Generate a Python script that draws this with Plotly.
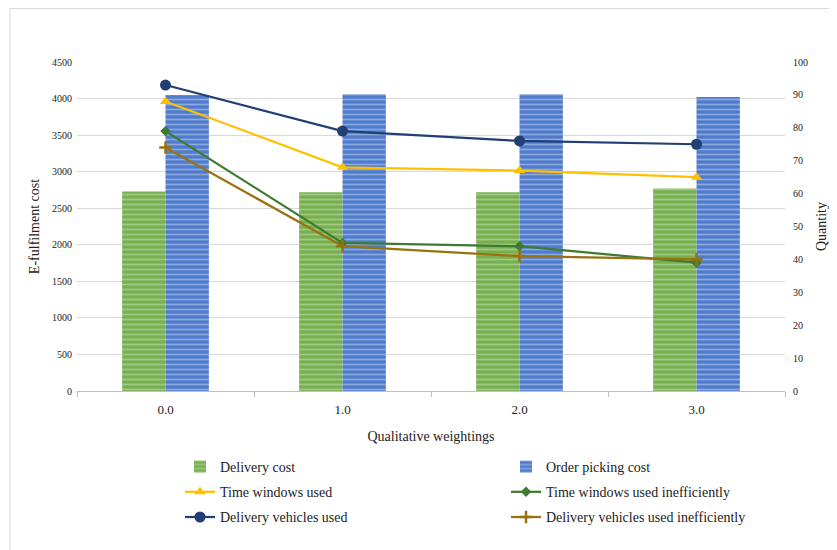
import plotly.graph_objects as go

categories = ["0.0", "1.0", "2.0", "3.0"]
delivery_cost = [2730, 2720, 2720, 2770]
order_picking_cost = [4050, 4060, 4060, 4020]
time_windows_used = [88, 68, 67, 65]
time_windows_ineff = [79, 45, 44, 39]
vehicles_used = [93, 79, 76, 75]
vehicles_ineff = [74, 44, 41, 40]

FONT = "Liberation Serif, Times New Roman, serif"

fig = go.Figure()
fig.add_trace(go.Bar(
    x=categories, y=delivery_cost, name="Delivery cost", legend="legend", legendgroup="a",
    marker=dict(color="#78B050", line=dict(width=0),
                pattern=dict(shape="-", fgcolor="#C6E0B4", bgcolor="#78B050", size=5, solidity=0.35)),
))
fig.add_trace(go.Bar(
    x=categories, y=order_picking_cost, name="Order picking cost", legend="legend2", legendgroup="b",
    marker=dict(color="#4E7BCB", line=dict(width=0),
                pattern=dict(shape="-", fgcolor="#C9D7F0", bgcolor="#4E7BCB", size=5, solidity=0.35)),
))
fig.add_trace(go.Scatter(
    x=categories, y=time_windows_used, name="Time windows used", yaxis="y2",
    legend="legend", legendgroup="c",
    mode="lines+markers", line=dict(color="#FFC000", width=2.25),
    marker=dict(symbol="triangle-up", size=10, color="#FFC000"),
))
fig.add_trace(go.Scatter(
    x=categories, y=time_windows_ineff, name="Time windows used inefficiently", yaxis="y2",
    legend="legend2", legendgroup="d",
    mode="lines+markers", line=dict(color="#3E7A32", width=2.25),
    marker=dict(symbol="diamond", size=8, color="#3E7A32"),
))
fig.add_trace(go.Scatter(
    x=categories, y=vehicles_used, name="Delivery vehicles used", yaxis="y2",
    legend="legend", legendgroup="e",
    mode="lines+markers", line=dict(color="#203F74", width=2.25),
    marker=dict(symbol="circle", size=11, color="#203F74"),
))
fig.add_trace(go.Scatter(
    x=categories, y=vehicles_ineff, name="Delivery vehicles used inefficiently", yaxis="y2",
    legend="legend2", legendgroup="f",
    mode="lines+markers", line=dict(color="#98720E", width=2.25),
    marker=dict(symbol="cross-thin", size=9, color="#98720E", line=dict(width=2.5, color="#98720E")),
))

# page offset of the figure inside the html body (default body margin)
OFF = 8
W, H = 837 - OFF, 550 - OFF
PLOT_L, PLOT_R, PLOT_T, PLOT_B = 77 - OFF, 785 - OFF, 62 - OFF, 391 - OFF
pw, ph = PLOT_R - PLOT_L, PLOT_B - PLOT_T


def px_x(px):
    return (px - OFF - PLOT_L) / pw


def px_y(py):
    return (PLOT_B - (py - OFF)) / ph


leg_common = dict(orientation="v", xanchor="left", yanchor="top", traceorder="grouped",
                  font=dict(size=14, family=FONT, color="#222222"), tracegroupgap=4,
                  bgcolor="rgba(0,0,0,0)")

fig.update_layout(
    width=W, height=H,
    margin=dict(l=PLOT_L, r=W - PLOT_R, t=PLOT_T, b=H - PLOT_B),
    paper_bgcolor="white", plot_bgcolor="white",
    font=dict(family=FONT, size=13, color="#222222"),
    barmode="group", bargap=0.51, bargroupgap=0,
    xaxis=dict(
        type="category", showline=True, linecolor="#BFBFBF", linewidth=1,
        ticks="outside", tickson="boundaries", ticklen=5, tickcolor="#BFBFBF",
        tickfont=dict(size=13, family=FONT), automargin=False, ticklabelstandoff=6,
        title=dict(text="Qualitative weightings", font=dict(size=14, family=FONT), standoff=15),
        showgrid=False,
    ),
    yaxis=dict(
        range=[0, 4500], dtick=500, showgrid=True, gridcolor="#D9D9D9", gridwidth=1,
        zeroline=False, showline=False, tickfont=dict(size=10, family=FONT), automargin=False,
        ticklabelstandoff=4,
        title=dict(text="E-fulfilment cost", font=dict(size=14, family=FONT), standoff=9),
    ),
    yaxis2=dict(
        range=[0, 100], dtick=10, overlaying="y", side="right", showgrid=False,
        zeroline=False, showline=False, tickfont=dict(size=10, family=FONT), automargin=False,
        ticklabelstandoff=7,
        title=dict(text="Quantity", font=dict(size=14, family=FONT), standoff=9),
    ),
    legend=dict(x=px_x(180), y=px_y(451), **leg_common),
    legend2=dict(x=px_x(506), y=px_y(451), **leg_common),
    shapes=[dict(type="rect", xref="paper", yref="paper",
                 x0=px_x(10), x1=px_x(860), y0=px_y(570), y1=px_y(8.5),
                 line=dict(color="#D9D9D9", width=1), fillcolor="rgba(0,0,0,0)", layer="below")],
)

fig.write_html("out.html")
